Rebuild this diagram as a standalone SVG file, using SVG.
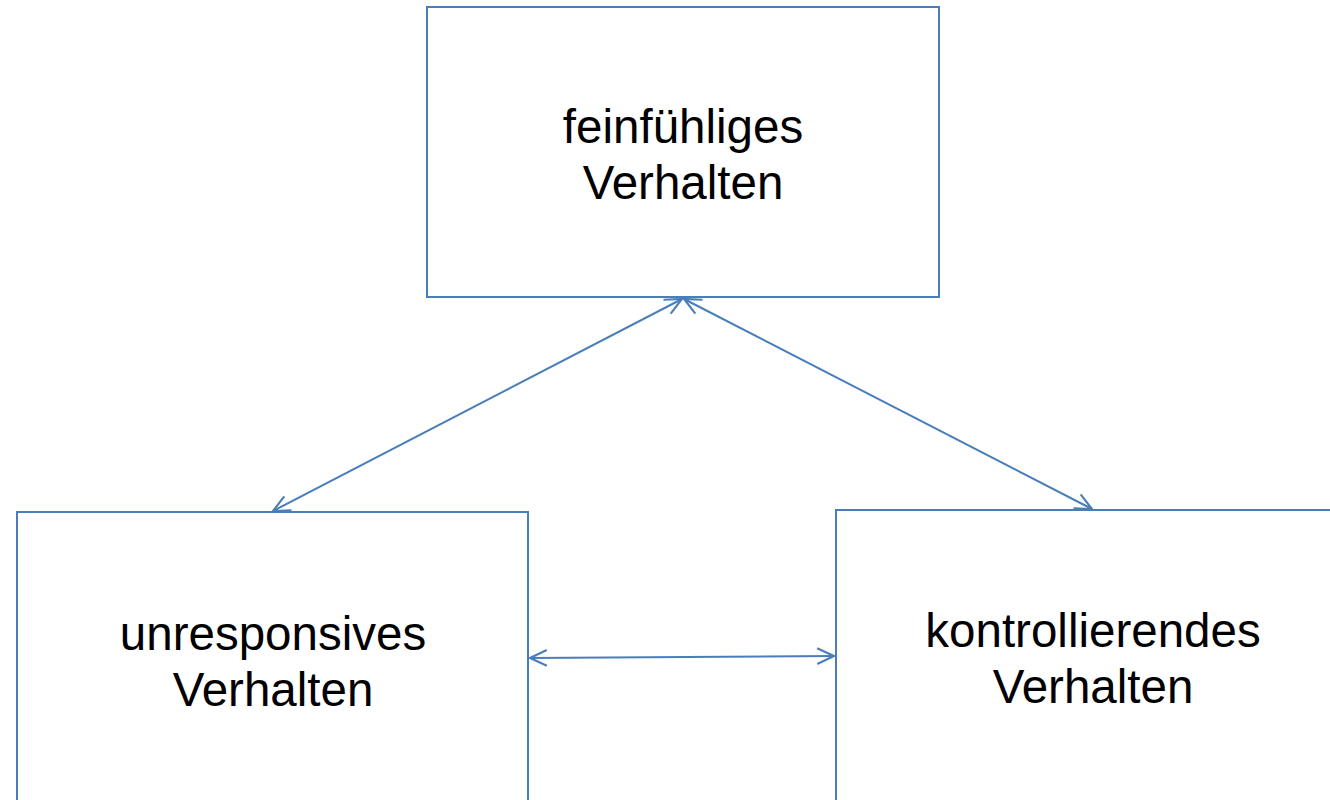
<svg xmlns="http://www.w3.org/2000/svg" width="1330" height="800" viewBox="0 0 1330 800">
<style>
.box{fill:#fff;stroke:#4A7EBB;stroke-width:2}
.lbl{font-family:"Liberation Sans",Arial,sans-serif;font-size:47.5px;fill:#000;text-anchor:middle}
.con{stroke:#4A7EBB;stroke-width:2;fill:none;marker-start:url(#ah);marker-end:url(#ah)}
</style>
<defs>
<marker id="ah" viewBox="0 0 20 20" refX="18" refY="10" markerWidth="21" markerHeight="21" markerUnits="userSpaceOnUse" orient="auto-start-reverse">
<path d="M2,2.5 L18,10 L2,17.5" fill="none" stroke="#4A7EBB" stroke-width="2"/>
</marker>
</defs>
<rect width="1330" height="800" fill="#fff"/>
<g id="top">
<rect class="box" x="427" y="7" width="512" height="290"/>
<text class="lbl" x="683" y="143">feinfühliges</text>
<text class="lbl" x="683" y="199">Verhalten</text>
</g>
<g id="left">
<rect class="box" x="17" y="512" width="511" height="300"/>
<text class="lbl" x="273" y="650">unresponsives</text>
<text class="lbl" x="273" y="706">Verhalten</text>
</g>
<g id="right">
<rect class="box" x="836" y="510" width="510" height="300"/>
<text class="lbl" x="1093" y="647">kontrollierendes</text>
<text class="lbl" x="1093" y="703">Verhalten</text>
</g>
<g id="connectors">
<line class="con" x1="682" y1="299" x2="273" y2="511"/>
<line class="con" x1="684" y1="299" x2="1092" y2="509"/>
<line class="con" x1="530" y1="658" x2="834" y2="656"/>
</g>
</svg>
